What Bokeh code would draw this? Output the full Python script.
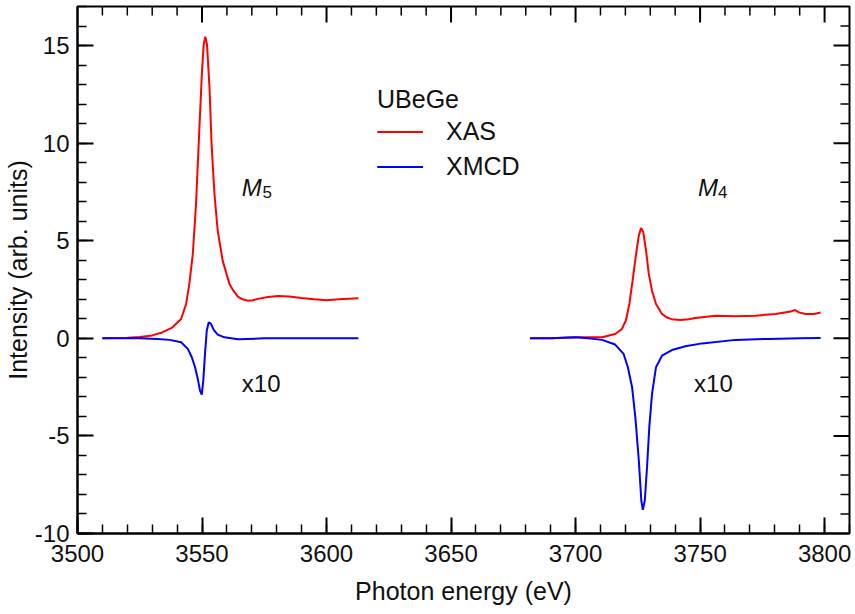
import math
from bokeh.plotting import figure
from bokeh.models import (Range1d, SingleIntervalTicker, Legend, LegendItem, Label)
from bokeh.embed import file_html
from bokeh.resources import INLINE

# ---------------- data ----------------
m5_energy_xas = [3510, 3520, 3525, 3530, 3534, 3538, 3541.6, 3543.6, 3544.9, 3546.3,
                 3547.6, 3548.9, 3550.0, 3550.7, 3551.3, 3552.0, 3553.0, 3553.9, 3555.0,
                 3556.3, 3558.3, 3561.0, 3562.8, 3564.4, 3566.2, 3568.4, 3570.5, 3572.4,
                 3576.5, 3580.5, 3585, 3589.9, 3595, 3600, 3605, 3612.8]
m5_xas = [0, 0.03, 0.07, 0.15, 0.3, 0.55, 0.99, 1.76, 2.78, 4.32,
          6.88, 10.63, 13.7, 15.07, 15.45, 15.07, 12.85, 9.78, 7.39,
          5.51, 3.98, 2.78, 2.4, 2.14, 2.0, 1.93, 1.95, 2.02,
          2.12, 2.17, 2.14, 2.07, 2.0, 1.95, 2.0, 2.05]

m5_energy_xmcd = [3510, 3525, 3532, 3537, 3541.6, 3544.3, 3545.9, 3547.2, 3548.3, 3549.2,
                  3549.9, 3550.5, 3551.2, 3551.9, 3552.7, 3553.6, 3554.7, 3556.3, 3559.0,
                  3564.4, 3575.1, 3590, 3600, 3612.8]
m5_xmcd = [0, 0, -0.03, -0.08, -0.2, -0.54, -0.97, -1.48, -2.08, -2.68,
           -2.88, -2.17, -0.8, 0.39, 0.82, 0.74, 0.43, 0.19, 0.05,
           -0.05, 0, 0, 0, 0]

m4_energy_xas = [3681.7, 3690, 3701.2, 3710.6, 3715.9, 3718.6, 3720.2, 3721.6, 3722.9,
                 3724.3, 3725.4, 3726.3, 3727.2, 3728.3, 3729.4, 3730.7, 3732.3, 3734.7,
                 3736.5, 3738.5, 3742.1, 3745.5, 3748.1, 3756.2, 3764.2, 3772.3, 3780.3,
                 3786.4, 3788.1, 3789.7, 3792.4, 3795.8, 3798.4]
m4_xas = [0, 0, 0.05, 0.05, 0.22, 0.48, 0.91, 1.76, 2.95,
          4.32, 5.26, 5.65, 5.43, 4.49, 3.3, 2.44, 1.76, 1.25,
          1.08, 0.98, 0.94, 0.98, 1.04, 1.16, 1.13, 1.16, 1.25,
          1.37, 1.45, 1.33, 1.25, 1.25, 1.32]

m4_energy_xmcd = [3681.7, 3690, 3699.8, 3705, 3710.6, 3715.9, 3719.3, 3721.0, 3722.7,
                  3724.0, 3725.4, 3726.4, 3727.0, 3727.8, 3728.7, 3729.6, 3730.7, 3732.3,
                  3734.7, 3738.7, 3744.1, 3750.8, 3764.2, 3777.7, 3790, 3798.4]
m4_xmcd = [0, 0, 0.05, 0, -0.08, -0.32, -0.80, -1.48, -2.51,
           -4.04, -6.26, -8.31, -8.79, -8.31, -6.6, -4.56, -2.85, -1.48,
           -0.89, -0.6, -0.41, -0.26, -0.08, -0.03, 0, 0.02]

# tick positions (also mirrored on the top and right frame edges)
x_major_ticks = [3500, 3550, 3600, 3650, 3700, 3750, 3800]
x_minor_ticks = [v for v in range(3510, 3810, 10) if v % 50 != 0]
y_major_ticks = [-5, 0, 5, 10, 15]
y_minor_ticks = [v for v in range(-9, 17) if v % 5 != 0]
y_tick_labels = {-10: "-10", -5: "-5"}

edge_names = ["M", "M"]
edge_subs = ["5", "4"]
edge_x = [3566.0, 3749.2]
edge_sub_x = [3574.3, 3757.2]
edge_y = [7.75, 7.75]
scale_text = ["x10", "x10"]
scale_x = [3566.0, 3747.6]
scale_y = [-2.3, -2.3]

X0, X1 = 3500, 3810
Y0, Y1 = -10, 17
FONT = "Liberation Sans"
TXT = "#111111"

p = figure(width=854, height=607,
           x_range=Range1d(X0, X1), y_range=Range1d(Y0, Y1),
           output_backend="svg", toolbar_location=None,
           min_border_left=0, min_border_right=5, min_border_top=6, min_border_bottom=0,
           x_axis_label="Photon energy (eV)", y_axis_label="Intensity (arb. units)")
p.grid.visible = False
p.background_fill_color = "white"
p.border_fill_color = "white"
p.outline_line_color = "black"
p.outline_line_width = 2

for ax in (p.xaxis[0], p.yaxis[0]):
    ax.axis_line_width = 2
    ax.axis_line_color = "black"
    ax.major_tick_in = 16
    ax.major_tick_out = 0
    ax.minor_tick_in = 9
    ax.minor_tick_out = 0
    ax.major_tick_line_width = 2
    ax.minor_tick_line_width = 1.5
    ax.major_tick_line_color = "black"
    ax.minor_tick_line_color = "black"
    ax.major_label_text_font = FONT
    ax.major_label_text_font_size = "24px"
    ax.major_label_text_color = TXT
    ax.axis_label_text_font = FONT
    ax.axis_label_text_font_size = "25px"
    ax.axis_label_text_font_style = "normal"
    ax.axis_label_text_color = TXT

p.xaxis.ticker = SingleIntervalTicker(interval=50, num_minor_ticks=5)
p.yaxis.ticker = SingleIntervalTicker(interval=5, num_minor_ticks=5)
p.yaxis.major_label_overrides = y_tick_labels
p.xaxis.major_label_standoff = 11
p.xaxis.axis_label_standoff = 12
p.yaxis.major_label_standoff = 8
p.yaxis.axis_label_standoff = 0

# inward ticks on the top and right edges of the frame
p.ray(x=x_major_ticks[1:], y=[Y1] * (len(x_major_ticks) - 1), length=16,
      length_units="screen", angle=-math.pi / 2, line_color="black", line_width=2)
p.ray(x=x_minor_ticks, y=[Y1] * len(x_minor_ticks), length=9,
      length_units="screen", angle=-math.pi / 2, line_color="black", line_width=1.5)
p.ray(x=[X1] * len(y_major_ticks), y=y_major_ticks, length=16,
      length_units="screen", angle=math.pi, line_color="black", line_width=2)
p.ray(x=[X1] * len(y_minor_ticks), y=y_minor_ticks, length=9,
      length_units="screen", angle=math.pi, line_color="black", line_width=1.5)

r1 = p.line(m5_energy_xas, m5_xas, line_color="#ff0000", line_width=2)
r2 = p.line(m4_energy_xas, m4_xas, line_color="#ff0000", line_width=2)
b1 = p.line(m5_energy_xmcd, m5_xmcd, line_color="#0000ff", line_width=2)
b2 = p.line(m4_energy_xmcd, m4_xmcd, line_color="#0000ff", line_width=2)

legend = Legend(items=[LegendItem(label="XAS", renderers=[r1, r2]),
                       LegendItem(label="XMCD", renderers=[b1, b2])],
                title="UBeGe", location=(300, 349),
                border_line_color=None, background_fill_alpha=0,
                padding=0, margin=0, spacing=0,
                glyph_width=46, glyph_height=35, label_height=35,
                label_standoff=23, title_standoff=0,
                label_text_font=FONT, label_text_font_size="25px",
                label_text_color=TXT,
                title_text_font=FONT, title_text_font_size="25px",
                title_text_font_style="normal", title_text_color=TXT)
p.add_layout(legend)

for i in range(2):
    p.add_layout(Label(x=edge_x[i], y=edge_y[i], text=edge_names[i],
                       text_font=FONT, text_font_size="24px", text_font_style="italic",
                       text_color=TXT, text_baseline="alphabetic"))
    p.add_layout(Label(x=edge_sub_x[i], y=edge_y[i] - 0.25, text=edge_subs[i],
                       text_font=FONT, text_font_size="17px",
                       text_color=TXT, text_baseline="alphabetic"))
    p.add_layout(Label(x=scale_x[i], y=scale_y[i], text=scale_text[i],
                       text_font=FONT, text_font_size="24px",
                       text_color=TXT, text_baseline="alphabetic"))

open("out.html", "w").write(file_html(p, INLINE))
